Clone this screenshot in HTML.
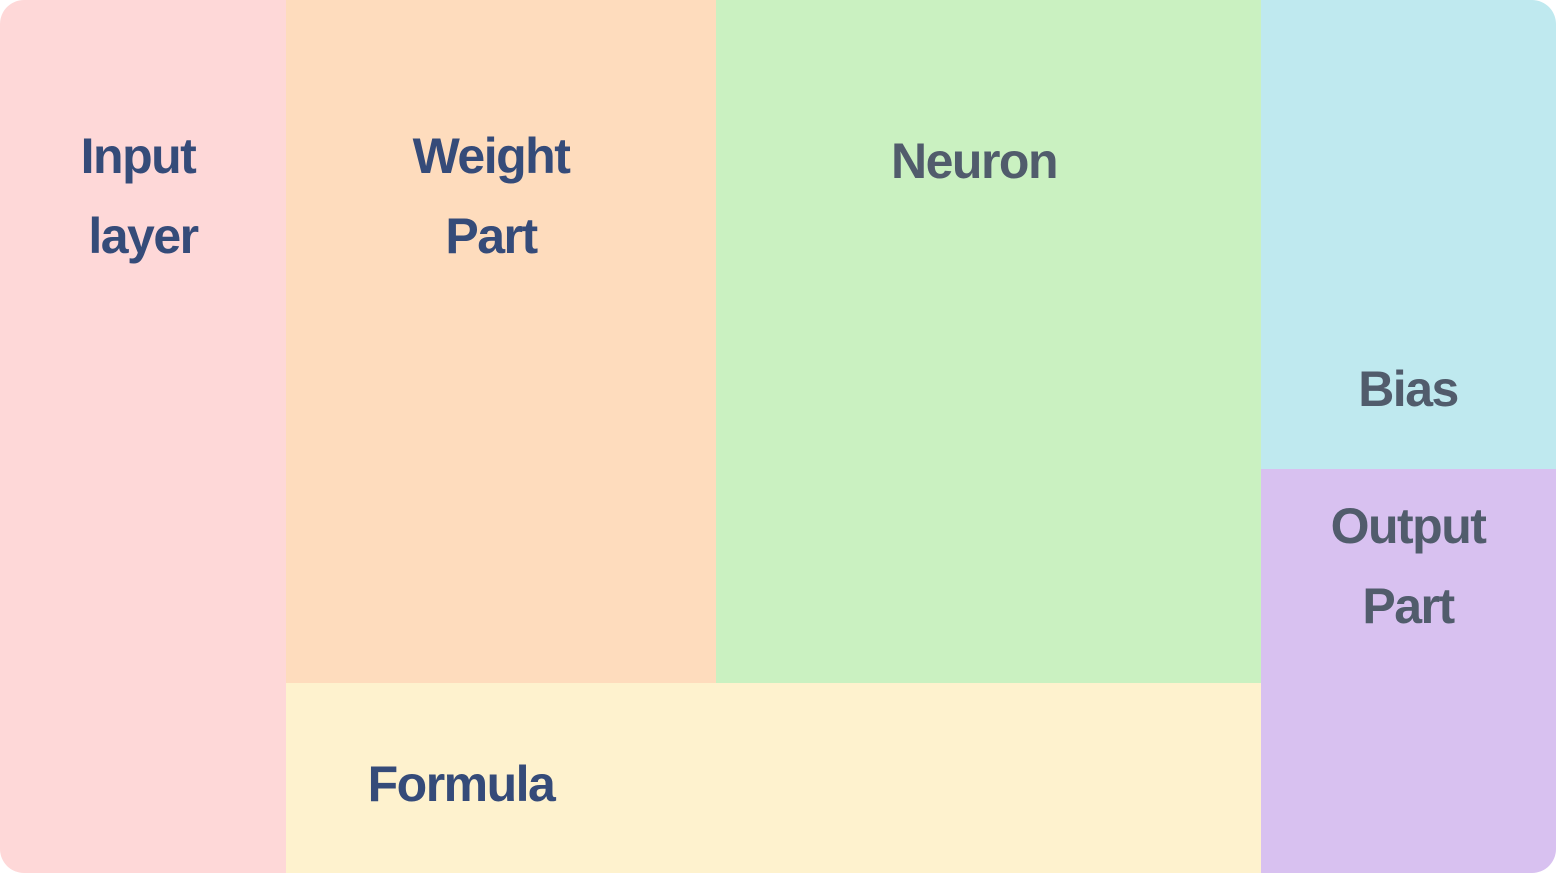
<!DOCTYPE html>
<html><head><meta charset="utf-8"><style>
html,body{margin:0;padding:0;background:#fff;}
#chart{position:relative;width:1556px;height:873px;overflow:hidden;border-radius:24px;font-family:"Liberation Sans",sans-serif;font-weight:bold;}
.cell{position:absolute;}
.lbl{position:absolute;font-size:50px;letter-spacing:-1.5px;line-height:1;white-space:nowrap;transform:translateX(-50%);}
.a{color:#354B79;}
.b{color:#515C6C;}
</style></head><body>
<div id="chart">
<div class="cell" style="left:0;top:0;width:286px;height:873px;background:#FED8D8"></div>
<div class="cell" style="left:286px;top:0;width:430px;height:683px;background:#FEDCBD"></div>
<div class="cell" style="left:716px;top:0;width:545px;height:683px;background:#CAF1C1"></div>
<div class="cell" style="left:286px;top:683px;width:975px;height:190px;background:#FEF2CE"></div>
<div class="cell" style="left:1261px;top:0;width:295px;height:469px;background:#BFE9EF"></div>
<div class="cell" style="left:1261px;top:469px;width:295px;height:404px;background:#D8C1F0"></div>

<div class="lbl a" style="left:138px;top:131px">Input</div>
<div class="lbl a" style="left:143px;top:211px">layer</div>
<div class="lbl a" style="left:491px;top:131px">Weight</div>
<div class="lbl a" style="left:491px;top:211px">Part</div>
<div class="lbl b" style="left:974px;top:136px">Neuron</div>
<div class="lbl b" style="left:1408px;top:364px">Bias</div>
<div class="lbl b" style="left:1408px;top:501px">Output</div>
<div class="lbl b" style="left:1408px;top:581px">Part</div>
<div class="lbl a" style="left:461px;top:759px">Formula</div>
</div>
</body></html>
